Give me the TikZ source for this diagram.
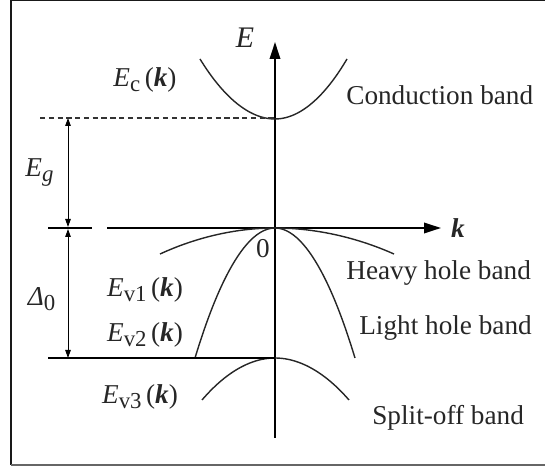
\documentclass[tikz,border=0pt]{standalone}
\usepackage{fontspec}
\setmainfont{Liberation Serif}
\usepackage{tikz}
\usetikzlibrary{arrows.meta,positioning,calc}
\tikzset{
  axis/.style={-{Triangle[length=3.4mm,width=2.1mm]}, line width=1.1pt},
  band/.style={line width=0.8pt, black!85},
  dimarrow/.style={{Triangle[length=1.6mm,width=1.1mm]}-{Triangle[length=1.6mm,width=1.1mm]}, line width=0.55pt},
  level/.style={line width=0.75pt},
  lbl/.style={font=\fontsize{15.5}{18}\selectfont, inner sep=0pt, text=black!85},
  frame/.style={line width=1pt}
}
\newcommand{\Ebnd}[1]{\textit{E}\raisebox{-0.4ex}{\fontsize{13}{15}\selectfont #1}\,(\textbf{\textit{k}})}

\begin{document}
\begin{tikzpicture}[x=0.02cm, y=-0.02cm]
\useasboundingbox (0,0) rectangle (545,469);
% frame (open on the right)
\draw[frame, black!90] (545,0.6) -- (11,0.6) -- (11,465);
\draw[frame, black!60] (11,465) -- (545,465);
% axes
\coordinate (o) at (275,228);
\coordinate (ebot) at (275,438);
\coordinate (etop) at (275,42);
\coordinate (kleft) at (107,228);
\coordinate (kright) at (441,228);
\draw[axis] (ebot) -- (etop);
\draw[axis] (kleft) -- (kright);
\node[lbl, font=\fontsize{17}{20}\selectfont\itshape] (elab) at (245,38) {E};
\node[lbl] (klab) at (458,228) {\textbf{\textit{k}}};
\node[lbl] (zero) at (263,249) {0};
% bands
\draw[band] (200,59) parabola bend (275,119) (347,59);
\draw[band] (160,254) parabola bend (o) (394,254);
\draw[band] (195,358) parabola bend (o) (355,358);
\draw[band] (202,400) parabola bend (275,358) (349,400);
% levels
\coordinate (ec) at (275,118);
\coordinate (ev) at (92,228);
\coordinate (evl) at (48,228);
\coordinate (eso) at (275,358);
\coordinate (esol) at (48,358);
\draw[level, dashed, dash pattern=on 3pt off 2pt, black!80] (40,118) -- (ec);
\draw[level] (evl) -- (ev);
\draw[level] (esol) -- (eso);
% gaps
\draw[dimarrow] (68,118) -- (68,227) node[lbl, midway, left=8pt] (eg) {\textit{E}\raisebox{-0.4ex}{\fontsize{13}{15}\selectfont\textit{g}}};
\draw[dimarrow] (68,229) -- (68,358) node[lbl, midway, left=7pt, yshift=-3pt] (delta) {\textit{Δ}\raisebox{-0.4ex}{\fontsize{13}{15}\selectfont 0}};
% band labels
\node[lbl] (ecl) at (145,80) {\Ebnd{c}};
\node[lbl] (ev1) at (145,290) {\Ebnd{v1}};
\node[lbl] (ev2) at (145,335) {\Ebnd{v2}};
\node[lbl] (ev3) at (140,397) {\Ebnd{v3}};
\node[lbl, anchor=west] (cb) at (346,95) {Conduction band};
\node[lbl, anchor=west] (hh) at (346,273) {Heavy hole band};
\node[lbl, anchor=west] (lh) at (359,328) {Light hole band};
\node[lbl, anchor=west] (so) at (372,418) {Split-off band};
\end{tikzpicture}
\end{document}
